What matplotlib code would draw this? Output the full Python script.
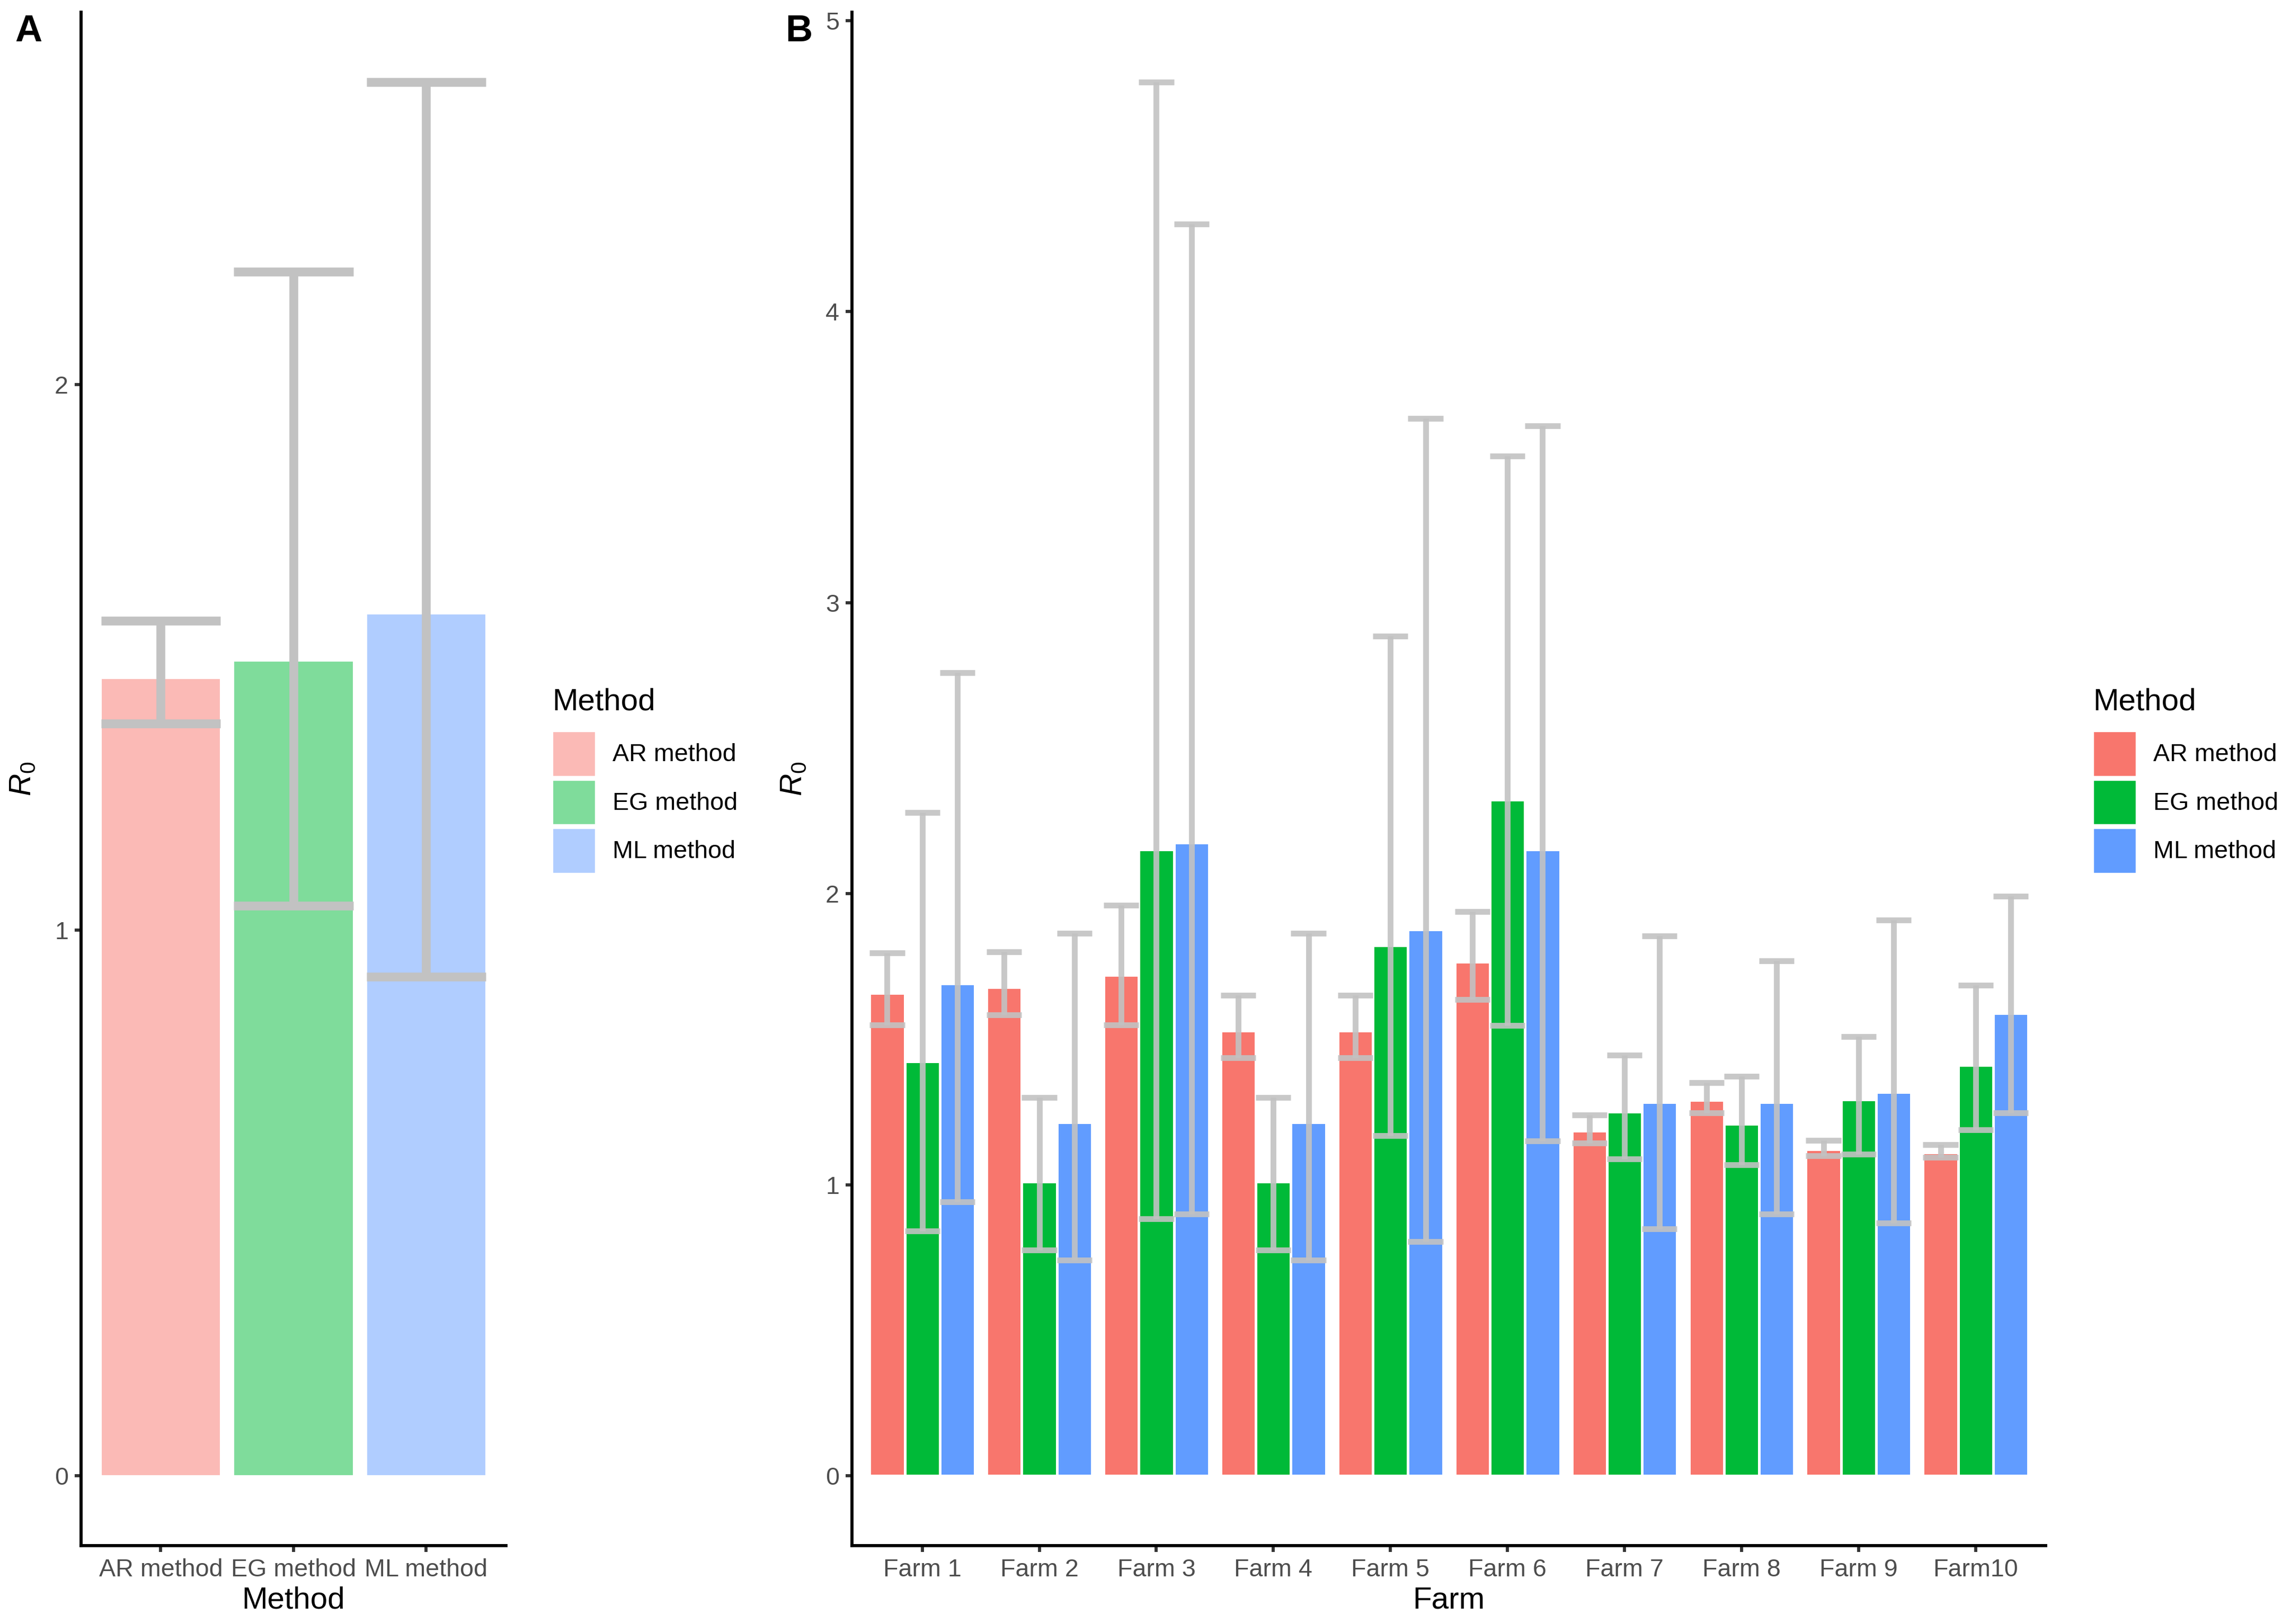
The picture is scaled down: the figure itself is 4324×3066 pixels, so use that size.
import numpy as np
import matplotlib
matplotlib.use('Agg')
import matplotlib.pyplot as plt
from matplotlib.patches import Patch

plt.rcParams['font.family'] = ['Liberation Sans', 'DejaVu Sans']
plt.rcParams['mathtext.fontset'] = 'custom'
plt.rcParams['mathtext.it'] = 'Liberation Sans:italic'
plt.rcParams['mathtext.rm'] = 'Liberation Sans'

# panel A: pooled estimate per method
methods = ['AR method', 'EG method', 'ML method']
pooled_r0 = [1.461, 1.493, 1.580]
pooled_lo = [1.379, 1.045, 0.915]
pooled_hi = [1.567, 2.207, 2.555]

# panel B: estimate per farm and method
farms = ['Farm 1', 'Farm 2', 'Farm 3', 'Farm 4', 'Farm 5',
         'Farm 6', 'Farm 7', 'Farm 8', 'Farm 9', 'Farm10']
ar_r0 = [1.658, 1.678, 1.720, 1.529, 1.529, 1.765, 1.185, 1.290, 1.121, 1.110]
ar_lo = [1.549, 1.583, 1.549, 1.436, 1.436, 1.636, 1.143, 1.247, 1.099, 1.094]
ar_hi = [1.796, 1.800, 1.960, 1.651, 1.651, 1.938, 1.239, 1.350, 1.152, 1.137]
eg_r0 = [1.423, 1.010, 2.151, 1.010, 1.822, 2.322, 1.250, 1.208, 1.292, 1.410]
eg_lo = [0.841, 0.775, 0.884, 0.775, 1.168, 1.547, 1.088, 1.068, 1.105, 1.188]
eg_hi = [2.278, 1.299, 4.789, 1.299, 2.884, 3.503, 1.445, 1.372, 1.509, 1.685]
ml_r0 = [1.691, 1.214, 2.175, 1.214, 1.876, 2.151, 1.283, 1.283, 1.318, 1.589]
ml_lo = [0.941, 0.742, 0.899, 0.742, 0.804, 1.150, 0.848, 0.899, 0.868, 1.247]
ml_hi = [2.760, 1.864, 4.300, 1.864, 3.633, 3.608, 1.854, 1.769, 1.909, 1.991]

colors = ['#F8766D', '#00BA38', '#619CFF']
light = ['#FBBAB6', '#7FDC9B', '#B0CDFF']
err_col = '#C2C2C2'


def style_axis(ax):
    ax.spines['top'].set_visible(False)
    ax.spines['right'].set_visible(False)
    for s in ['left', 'bottom']:
        ax.spines[s].set_linewidth(1.4)
        ax.spines[s].set_color('black')
    ax.tick_params(length=2.8, width=1.4, color='#333333', labelsize=11.2,
                   labelcolor='#4D4D4D', pad=3)


def draw_err(ax, x, lo, hi, w, lw, alpha=1.0):
    x = np.asarray(x)
    ax.vlines(x, lo, hi, color=err_col, lw=lw, alpha=alpha, zorder=3)
    ax.hlines(lo, x - w / 2, x + w / 2, color=err_col, lw=lw, alpha=alpha, zorder=3)
    ax.hlines(hi, x - w / 2, x + w / 2, color=err_col, lw=lw, alpha=alpha, zorder=3)


fig = plt.figure(figsize=(4324 / 300, 3066 / 300), dpi=300)
axA = fig.add_axes([0.0354, 0.0483, 0.2208 - 0.0354, 0.9925 - 0.0483])
axB = fig.add_axes([0.3719, 0.0483, 0.893 - 0.3719, 0.9925 - 0.0483])

# ---- panel A
xa = np.arange(len(methods))
axA.bar(xa, pooled_r0, width=0.9, color=light, edgecolor='white', linewidth=0.5, zorder=2)
draw_err(axA, xa, pooled_lo, pooled_hi, 0.9, 4.0)
topA = max(pooled_hi)
axA.set_ylim(-0.05 * topA, topA * 1.05)
axA.set_xlim(-0.6, len(methods) - 0.4)
axA.set_xticks(xa)
axA.set_xticklabels(methods)
axA.set_yticks([0, 1, 2])
axA.set_xlabel('Method', fontsize=14, labelpad=2)
axA.set_ylabel(r'$R_{\mathit{0}}$', fontsize=14, labelpad=8)
style_axis(axA)

# ---- panel B
xb = np.arange(len(farms))
bw = 0.3
series = [(ar_r0, ar_lo, ar_hi), (eg_r0, eg_lo, eg_hi), (ml_r0, ml_lo, ml_hi)]
for k, (r0, lo, hi) in enumerate(series):
    xk = xb + (k - 1) * bw
    axB.bar(xk, r0, width=bw, color=colors[k], edgecolor='white', linewidth=1.2, zorder=2)
    draw_err(axB, xk, lo, hi, bw, 2.6, alpha=0.9)
topB = max(max(ar_hi), max(eg_hi), max(ml_hi))
axB.set_ylim(-0.05 * topB, topB * 1.05)
axB.set_xlim(-0.6, len(farms) - 0.4)
axB.set_xticks(xb)
axB.set_xticklabels(farms)
axB.set_yticks([0, 1, 2, 3, 4, 5])
axB.set_xlabel('Farm', fontsize=14, labelpad=2)
axB.set_ylabel(r'$R_{\mathit{0}}$', fontsize=14, labelpad=8)
style_axis(axB)

# legends
for cols, xpos in [(light, 0.241), (colors, 0.9135)]:
    handles = [Patch(facecolor=c, edgecolor='white', linewidth=0.8) for c in cols]
    leg = fig.legend(handles, methods, title='Method', loc='center left',
                     bbox_to_anchor=(xpos, 0.5194), frameon=False, borderpad=0,
                     borderaxespad=0, handlelength=1.75, handleheight=2.45,
                     handletextpad=0.7, labelspacing=0.12, fontsize=11.2,
                     title_fontsize=14, alignment='left')
    leg._legend_box.sep = 6.7

fig.text(28 / 4324, 1 - 27 / 3066, 'A', fontsize=17, fontweight='bold', va='top', ha='left')
fig.text(1482 / 4324, 1 - 27 / 3066, 'B', fontsize=17, fontweight='bold', va='top', ha='left')

fig.savefig('out.png', dpi=300, facecolor='white')
